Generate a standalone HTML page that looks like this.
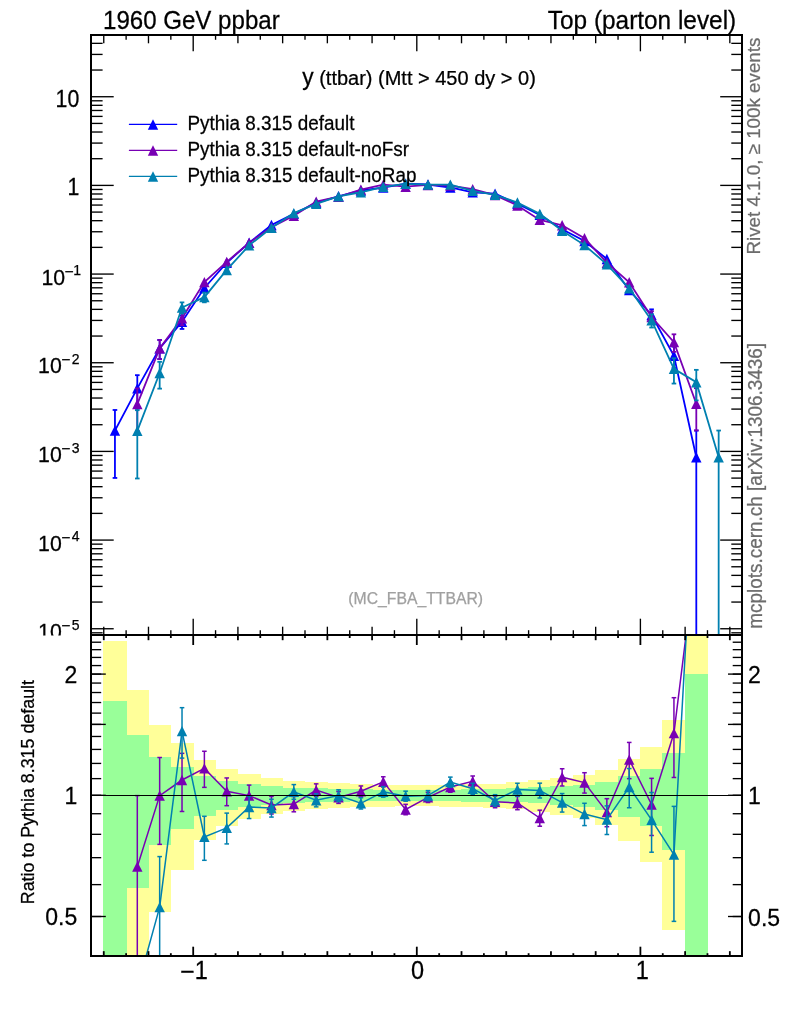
<!DOCTYPE html>
<html><head><meta charset="utf-8"><title>plot</title><style>html,body{margin:0;padding:0;background:#fff}svg{display:block}svg text{font-family:"Liberation Sans","DejaVu Sans",sans-serif}</style></head><body>
<svg width="786" height="1024" viewBox="0 0 786 1024">
<rect width="786" height="1024" fill="#fff"/>
<defs><clipPath id="cm"><rect x="91.0" y="35.0" width="651.0" height="600.0"/></clipPath><clipPath id="cr"><rect x="91.0" y="635.0" width="651.0" height="321.0"/></clipPath></defs>
<g clip-path="url(#cr)" shape-rendering="crispEdges">
<rect x="103" y="641" width="24" height="1359" fill="#ffff99"/>
<rect x="126" y="690" width="23" height="404" fill="#ffff99"/>
<rect x="148" y="725" width="23" height="187" fill="#ffff99"/>
<rect x="170" y="743" width="24" height="127" fill="#ffff99"/>
<rect x="193" y="760" width="23" height="80" fill="#ffff99"/>
<rect x="215" y="769" width="23" height="57" fill="#ffff99"/>
<rect x="237" y="774" width="24" height="45" fill="#ffff99"/>
<rect x="260" y="778" width="23" height="36" fill="#ffff99"/>
<rect x="282" y="781" width="23" height="30" fill="#ffff99"/>
<rect x="305" y="782" width="23" height="27" fill="#ffff99"/>
<rect x="327" y="783" width="23" height="25" fill="#ffff99"/>
<rect x="349" y="784" width="24" height="23" fill="#ffff99"/>
<rect x="372" y="785" width="23" height="22" fill="#ffff99"/>
<rect x="394" y="785" width="23" height="21" fill="#ffff99"/>
<rect x="416" y="785" width="24" height="21" fill="#ffff99"/>
<rect x="439" y="785" width="23" height="22" fill="#ffff99"/>
<rect x="461" y="784" width="23" height="23" fill="#ffff99"/>
<rect x="483" y="784" width="24" height="24" fill="#ffff99"/>
<rect x="506" y="782" width="23" height="27" fill="#ffff99"/>
<rect x="528" y="780" width="23" height="32" fill="#ffff99"/>
<rect x="550" y="778" width="24" height="37" fill="#ffff99"/>
<rect x="573" y="775" width="23" height="43" fill="#ffff99"/>
<rect x="595" y="770" width="24" height="55" fill="#ffff99"/>
<rect x="618" y="759" width="23" height="82" fill="#ffff99"/>
<rect x="640" y="747" width="23" height="115" fill="#ffff99"/>
<rect x="662" y="720" width="24" height="210" fill="#ffff99"/>
<rect x="685" y="630" width="23" height="1370" fill="#ffff99"/>
<rect x="103" y="701" width="24" height="310" fill="#99ff99"/>
<rect x="126" y="735" width="23" height="153" fill="#99ff99"/>
<rect x="148" y="757" width="23" height="88" fill="#99ff99"/>
<rect x="170" y="767" width="24" height="62" fill="#99ff99"/>
<rect x="193" y="776" width="23" height="40" fill="#99ff99"/>
<rect x="215" y="781" width="23" height="29" fill="#99ff99"/>
<rect x="237" y="784" width="24" height="23" fill="#99ff99"/>
<rect x="260" y="786" width="23" height="19" fill="#99ff99"/>
<rect x="282" y="788" width="23" height="15" fill="#99ff99"/>
<rect x="305" y="788" width="23" height="14" fill="#99ff99"/>
<rect x="327" y="789" width="23" height="13" fill="#99ff99"/>
<rect x="349" y="789" width="24" height="12" fill="#99ff99"/>
<rect x="372" y="790" width="23" height="11" fill="#99ff99"/>
<rect x="394" y="790" width="23" height="11" fill="#99ff99"/>
<rect x="416" y="790" width="24" height="11" fill="#99ff99"/>
<rect x="439" y="790" width="23" height="11" fill="#99ff99"/>
<rect x="461" y="789" width="23" height="13" fill="#99ff99"/>
<rect x="483" y="789" width="24" height="13" fill="#99ff99"/>
<rect x="506" y="788" width="23" height="14" fill="#99ff99"/>
<rect x="528" y="787" width="23" height="16" fill="#99ff99"/>
<rect x="550" y="786" width="24" height="19" fill="#99ff99"/>
<rect x="573" y="785" width="23" height="22" fill="#99ff99"/>
<rect x="595" y="782" width="24" height="28" fill="#99ff99"/>
<rect x="618" y="776" width="23" height="41" fill="#99ff99"/>
<rect x="640" y="769" width="23" height="57" fill="#99ff99"/>
<rect x="662" y="753" width="24" height="97" fill="#99ff99"/>
<rect x="685" y="674" width="23" height="1326" fill="#99ff99"/>
</g>
<g clip-path="url(#cr)">
<polyline fill="none" stroke="#7800b4" stroke-width="1.5" points="137.3,866.67 159.66,795.6 182.02,780.01 204.38,768.38 226.74,791.27 249.1,795.6 271.46,804.96 293.82,804.04 316.18,790.08 338.54,797.36 360.9,791.27 383.26,781.79 405.62,809.46 427.98,797.36 450.34,787.05 472.7,781.3 495.06,801.84 517.42,802.94 539.78,818.01 562.14,777.15 584.5,782.6 606.86,812.13 629.22,759.6 651.58,804.59 673.94,733.08 696.3,552.6"/>
<line x1="137.3" y1="795.6" x2="137.3" y2="988.41" stroke="#7800b4" stroke-width="1.5"/>
<line x1="135" y1="795.6" x2="139.6" y2="795.6" stroke="#7800b4" stroke-width="1.5"/>
<line x1="135" y1="988.41" x2="139.6" y2="988.41" stroke="#7800b4" stroke-width="1.5"/>
<line x1="159.66" y1="757.51" x2="159.66" y2="844.37" stroke="#7800b4" stroke-width="1.5"/>
<line x1="157.36" y1="757.51" x2="161.96" y2="757.51" stroke="#7800b4" stroke-width="1.5"/>
<line x1="157.36" y1="844.37" x2="161.96" y2="844.37" stroke="#7800b4" stroke-width="1.5"/>
<line x1="182.02" y1="753.35" x2="182.02" y2="811.48" stroke="#7800b4" stroke-width="1.5"/>
<line x1="179.72" y1="753.35" x2="184.32" y2="753.35" stroke="#7800b4" stroke-width="1.5"/>
<line x1="179.72" y1="811.48" x2="184.32" y2="811.48" stroke="#7800b4" stroke-width="1.5"/>
<line x1="204.38" y1="751.26" x2="204.38" y2="787.36" stroke="#7800b4" stroke-width="1.5"/>
<line x1="202.08" y1="751.26" x2="206.68" y2="751.26" stroke="#7800b4" stroke-width="1.5"/>
<line x1="202.08" y1="787.36" x2="206.68" y2="787.36" stroke="#7800b4" stroke-width="1.5"/>
<line x1="226.74" y1="777.95" x2="226.74" y2="805.69" stroke="#7800b4" stroke-width="1.5"/>
<line x1="224.44" y1="777.95" x2="229.04" y2="777.95" stroke="#7800b4" stroke-width="1.5"/>
<line x1="224.44" y1="805.69" x2="229.04" y2="805.69" stroke="#7800b4" stroke-width="1.5"/>
<line x1="249.1" y1="785.11" x2="249.1" y2="806.76" stroke="#7800b4" stroke-width="1.5"/>
<line x1="246.8" y1="785.11" x2="251.4" y2="785.11" stroke="#7800b4" stroke-width="1.5"/>
<line x1="246.8" y1="806.76" x2="251.4" y2="806.76" stroke="#7800b4" stroke-width="1.5"/>
<line x1="271.46" y1="796.35" x2="271.46" y2="814.01" stroke="#7800b4" stroke-width="1.5"/>
<line x1="269.16" y1="796.35" x2="273.76" y2="796.35" stroke="#7800b4" stroke-width="1.5"/>
<line x1="269.16" y1="814.01" x2="273.76" y2="814.01" stroke="#7800b4" stroke-width="1.5"/>
<line x1="293.82" y1="796.59" x2="293.82" y2="811.81" stroke="#7800b4" stroke-width="1.5"/>
<line x1="291.52" y1="796.59" x2="296.12" y2="796.59" stroke="#7800b4" stroke-width="1.5"/>
<line x1="291.52" y1="811.81" x2="296.12" y2="811.81" stroke="#7800b4" stroke-width="1.5"/>
<line x1="316.18" y1="783.86" x2="316.18" y2="796.53" stroke="#7800b4" stroke-width="1.5"/>
<line x1="313.88" y1="783.86" x2="318.48" y2="783.86" stroke="#7800b4" stroke-width="1.5"/>
<line x1="313.88" y1="796.53" x2="318.48" y2="796.53" stroke="#7800b4" stroke-width="1.5"/>
<line x1="338.54" y1="791.52" x2="338.54" y2="803.41" stroke="#7800b4" stroke-width="1.5"/>
<line x1="336.24" y1="791.52" x2="340.84" y2="791.52" stroke="#7800b4" stroke-width="1.5"/>
<line x1="336.24" y1="803.41" x2="340.84" y2="803.41" stroke="#7800b4" stroke-width="1.5"/>
<line x1="360.9" y1="785.94" x2="360.9" y2="796.77" stroke="#7800b4" stroke-width="1.5"/>
<line x1="358.6" y1="785.94" x2="363.2" y2="785.94" stroke="#7800b4" stroke-width="1.5"/>
<line x1="358.6" y1="796.77" x2="363.2" y2="796.77" stroke="#7800b4" stroke-width="1.5"/>
<line x1="383.26" y1="776.78" x2="383.26" y2="786.93" stroke="#7800b4" stroke-width="1.5"/>
<line x1="380.96" y1="776.78" x2="385.56" y2="776.78" stroke="#7800b4" stroke-width="1.5"/>
<line x1="380.96" y1="786.93" x2="385.56" y2="786.93" stroke="#7800b4" stroke-width="1.5"/>
<line x1="405.62" y1="804.32" x2="405.62" y2="814.75" stroke="#7800b4" stroke-width="1.5"/>
<line x1="403.32" y1="804.32" x2="407.92" y2="804.32" stroke="#7800b4" stroke-width="1.5"/>
<line x1="403.32" y1="814.75" x2="407.92" y2="814.75" stroke="#7800b4" stroke-width="1.5"/>
<line x1="427.98" y1="792.34" x2="427.98" y2="802.54" stroke="#7800b4" stroke-width="1.5"/>
<line x1="425.68" y1="792.34" x2="430.28" y2="792.34" stroke="#7800b4" stroke-width="1.5"/>
<line x1="425.68" y1="802.54" x2="430.28" y2="802.54" stroke="#7800b4" stroke-width="1.5"/>
<line x1="450.34" y1="781.98" x2="450.34" y2="792.27" stroke="#7800b4" stroke-width="1.5"/>
<line x1="448.04" y1="781.98" x2="452.64" y2="781.98" stroke="#7800b4" stroke-width="1.5"/>
<line x1="448.04" y1="792.27" x2="452.64" y2="792.27" stroke="#7800b4" stroke-width="1.5"/>
<line x1="472.7" y1="775.99" x2="472.7" y2="786.77" stroke="#7800b4" stroke-width="1.5"/>
<line x1="470.4" y1="775.99" x2="475" y2="775.99" stroke="#7800b4" stroke-width="1.5"/>
<line x1="470.4" y1="786.77" x2="475" y2="786.77" stroke="#7800b4" stroke-width="1.5"/>
<line x1="495.06" y1="796.12" x2="495.06" y2="807.76" stroke="#7800b4" stroke-width="1.5"/>
<line x1="492.76" y1="796.12" x2="497.36" y2="796.12" stroke="#7800b4" stroke-width="1.5"/>
<line x1="492.76" y1="807.76" x2="497.36" y2="807.76" stroke="#7800b4" stroke-width="1.5"/>
<line x1="517.42" y1="796.41" x2="517.42" y2="809.72" stroke="#7800b4" stroke-width="1.5"/>
<line x1="515.12" y1="796.41" x2="519.72" y2="796.41" stroke="#7800b4" stroke-width="1.5"/>
<line x1="515.12" y1="809.72" x2="519.72" y2="809.72" stroke="#7800b4" stroke-width="1.5"/>
<line x1="539.78" y1="810.16" x2="539.78" y2="826.22" stroke="#7800b4" stroke-width="1.5"/>
<line x1="537.48" y1="810.16" x2="542.08" y2="810.16" stroke="#7800b4" stroke-width="1.5"/>
<line x1="537.48" y1="826.22" x2="542.08" y2="826.22" stroke="#7800b4" stroke-width="1.5"/>
<line x1="562.14" y1="768.75" x2="562.14" y2="785.97" stroke="#7800b4" stroke-width="1.5"/>
<line x1="559.84" y1="768.75" x2="564.44" y2="768.75" stroke="#7800b4" stroke-width="1.5"/>
<line x1="559.84" y1="785.97" x2="564.44" y2="785.97" stroke="#7800b4" stroke-width="1.5"/>
<line x1="584.5" y1="772.71" x2="584.5" y2="793.08" stroke="#7800b4" stroke-width="1.5"/>
<line x1="582.2" y1="772.71" x2="586.8" y2="772.71" stroke="#7800b4" stroke-width="1.5"/>
<line x1="582.2" y1="793.08" x2="586.8" y2="793.08" stroke="#7800b4" stroke-width="1.5"/>
<line x1="606.86" y1="798.68" x2="606.86" y2="826.71" stroke="#7800b4" stroke-width="1.5"/>
<line x1="604.56" y1="798.68" x2="609.16" y2="798.68" stroke="#7800b4" stroke-width="1.5"/>
<line x1="604.56" y1="826.71" x2="609.16" y2="826.71" stroke="#7800b4" stroke-width="1.5"/>
<line x1="629.22" y1="742.43" x2="629.22" y2="778.64" stroke="#7800b4" stroke-width="1.5"/>
<line x1="626.92" y1="742.43" x2="631.52" y2="742.43" stroke="#7800b4" stroke-width="1.5"/>
<line x1="626.92" y1="778.64" x2="631.52" y2="778.64" stroke="#7800b4" stroke-width="1.5"/>
<line x1="651.58" y1="778.34" x2="651.58" y2="835.49" stroke="#7800b4" stroke-width="1.5"/>
<line x1="649.28" y1="778.34" x2="653.88" y2="778.34" stroke="#7800b4" stroke-width="1.5"/>
<line x1="649.28" y1="835.49" x2="653.88" y2="835.49" stroke="#7800b4" stroke-width="1.5"/>
<line x1="673.94" y1="697.7" x2="673.94" y2="777.48" stroke="#7800b4" stroke-width="1.5"/>
<line x1="671.64" y1="697.7" x2="676.24" y2="697.7" stroke="#7800b4" stroke-width="1.5"/>
<line x1="671.64" y1="777.48" x2="676.24" y2="777.48" stroke="#7800b4" stroke-width="1.5"/>
<polygon points="132.1,871.87 142.5,871.87 137.3,861.47" fill="#7800b4"/>
<polygon points="154.46,800.8 164.86,800.8 159.66,790.4" fill="#7800b4"/>
<polygon points="176.82,785.21 187.22,785.21 182.02,774.81" fill="#7800b4"/>
<polygon points="199.18,773.58 209.58,773.58 204.38,763.18" fill="#7800b4"/>
<polygon points="221.54,796.47 231.94,796.47 226.74,786.07" fill="#7800b4"/>
<polygon points="243.9,800.8 254.3,800.8 249.1,790.4" fill="#7800b4"/>
<polygon points="266.26,810.16 276.66,810.16 271.46,799.76" fill="#7800b4"/>
<polygon points="288.62,809.24 299.02,809.24 293.82,798.84" fill="#7800b4"/>
<polygon points="310.98,795.28 321.38,795.28 316.18,784.88" fill="#7800b4"/>
<polygon points="333.34,802.56 343.74,802.56 338.54,792.16" fill="#7800b4"/>
<polygon points="355.7,796.47 366.1,796.47 360.9,786.07" fill="#7800b4"/>
<polygon points="378.06,786.99 388.46,786.99 383.26,776.59" fill="#7800b4"/>
<polygon points="400.42,814.66 410.82,814.66 405.62,804.26" fill="#7800b4"/>
<polygon points="422.78,802.56 433.18,802.56 427.98,792.16" fill="#7800b4"/>
<polygon points="445.14,792.25 455.54,792.25 450.34,781.85" fill="#7800b4"/>
<polygon points="467.5,786.5 477.9,786.5 472.7,776.1" fill="#7800b4"/>
<polygon points="489.86,807.04 500.26,807.04 495.06,796.64" fill="#7800b4"/>
<polygon points="512.22,808.14 522.62,808.14 517.42,797.74" fill="#7800b4"/>
<polygon points="534.58,823.21 544.98,823.21 539.78,812.81" fill="#7800b4"/>
<polygon points="556.94,782.35 567.34,782.35 562.14,771.95" fill="#7800b4"/>
<polygon points="579.3,787.8 589.7,787.8 584.5,777.4" fill="#7800b4"/>
<polygon points="601.66,817.33 612.06,817.33 606.86,806.93" fill="#7800b4"/>
<polygon points="624.02,764.8 634.42,764.8 629.22,754.4" fill="#7800b4"/>
<polygon points="646.38,809.79 656.78,809.79 651.58,799.39" fill="#7800b4"/>
<polygon points="668.74,738.28 679.14,738.28 673.94,727.88" fill="#7800b4"/>
<polygon points="691.1,557.8 701.5,557.8 696.3,547.4" fill="#7800b4"/>
<polyline fill="none" stroke="#0080b0" stroke-width="1.5" points="137.3,988.17 159.66,907.08 182.02,731.08 204.38,836.92 226.74,827.84 249.1,807.01 271.46,807.94 293.82,791.79 316.18,800.22 338.54,795.6 360.9,803.3 383.26,791.79 405.62,796.13 427.98,795.6 450.34,782.11 472.7,788.73 495.06,800.4 517.42,789.57 539.78,790.42 562.14,802.57 584.5,814.07 606.86,819.61 629.22,787.05 651.58,819.81 673.94,854.58 696.3,454.51"/>
<line x1="159.66" y1="856.59" x2="159.66" y2="978.36" stroke="#0080b0" stroke-width="1.5"/>
<line x1="157.36" y1="856.59" x2="161.96" y2="856.59" stroke="#0080b0" stroke-width="1.5"/>
<line x1="157.36" y1="978.36" x2="161.96" y2="978.36" stroke="#0080b0" stroke-width="1.5"/>
<line x1="182.02" y1="707.67" x2="182.02" y2="758.1" stroke="#0080b0" stroke-width="1.5"/>
<line x1="179.72" y1="707.67" x2="184.32" y2="707.67" stroke="#0080b0" stroke-width="1.5"/>
<line x1="179.72" y1="758.1" x2="184.32" y2="758.1" stroke="#0080b0" stroke-width="1.5"/>
<line x1="204.38" y1="816.3" x2="204.38" y2="860.3" stroke="#0080b0" stroke-width="1.5"/>
<line x1="202.08" y1="816.3" x2="206.68" y2="816.3" stroke="#0080b0" stroke-width="1.5"/>
<line x1="202.08" y1="860.3" x2="206.68" y2="860.3" stroke="#0080b0" stroke-width="1.5"/>
<line x1="226.74" y1="813.11" x2="226.74" y2="843.92" stroke="#0080b0" stroke-width="1.5"/>
<line x1="224.44" y1="813.11" x2="229.04" y2="813.11" stroke="#0080b0" stroke-width="1.5"/>
<line x1="224.44" y1="843.92" x2="229.04" y2="843.92" stroke="#0080b0" stroke-width="1.5"/>
<line x1="249.1" y1="796.18" x2="249.1" y2="818.55" stroke="#0080b0" stroke-width="1.5"/>
<line x1="246.8" y1="796.18" x2="251.4" y2="796.18" stroke="#0080b0" stroke-width="1.5"/>
<line x1="246.8" y1="818.55" x2="251.4" y2="818.55" stroke="#0080b0" stroke-width="1.5"/>
<line x1="271.46" y1="799.27" x2="271.46" y2="817.08" stroke="#0080b0" stroke-width="1.5"/>
<line x1="269.16" y1="799.27" x2="273.76" y2="799.27" stroke="#0080b0" stroke-width="1.5"/>
<line x1="269.16" y1="817.08" x2="273.76" y2="817.08" stroke="#0080b0" stroke-width="1.5"/>
<line x1="293.82" y1="784.59" x2="293.82" y2="799.29" stroke="#0080b0" stroke-width="1.5"/>
<line x1="291.52" y1="784.59" x2="296.12" y2="784.59" stroke="#0080b0" stroke-width="1.5"/>
<line x1="291.52" y1="799.29" x2="296.12" y2="799.29" stroke="#0080b0" stroke-width="1.5"/>
<line x1="316.18" y1="793.82" x2="316.18" y2="806.86" stroke="#0080b0" stroke-width="1.5"/>
<line x1="313.88" y1="793.82" x2="318.48" y2="793.82" stroke="#0080b0" stroke-width="1.5"/>
<line x1="313.88" y1="806.86" x2="318.48" y2="806.86" stroke="#0080b0" stroke-width="1.5"/>
<line x1="338.54" y1="789.79" x2="338.54" y2="801.61" stroke="#0080b0" stroke-width="1.5"/>
<line x1="336.24" y1="789.79" x2="340.84" y2="789.79" stroke="#0080b0" stroke-width="1.5"/>
<line x1="336.24" y1="801.61" x2="340.84" y2="801.61" stroke="#0080b0" stroke-width="1.5"/>
<line x1="360.9" y1="797.79" x2="360.9" y2="809" stroke="#0080b0" stroke-width="1.5"/>
<line x1="358.6" y1="797.79" x2="363.2" y2="797.79" stroke="#0080b0" stroke-width="1.5"/>
<line x1="358.6" y1="809" x2="363.2" y2="809" stroke="#0080b0" stroke-width="1.5"/>
<line x1="383.26" y1="786.64" x2="383.26" y2="797.09" stroke="#0080b0" stroke-width="1.5"/>
<line x1="380.96" y1="786.64" x2="385.56" y2="786.64" stroke="#0080b0" stroke-width="1.5"/>
<line x1="380.96" y1="797.09" x2="385.56" y2="797.09" stroke="#0080b0" stroke-width="1.5"/>
<line x1="405.62" y1="791.18" x2="405.62" y2="801.22" stroke="#0080b0" stroke-width="1.5"/>
<line x1="403.32" y1="791.18" x2="407.92" y2="791.18" stroke="#0080b0" stroke-width="1.5"/>
<line x1="403.32" y1="801.22" x2="407.92" y2="801.22" stroke="#0080b0" stroke-width="1.5"/>
<line x1="427.98" y1="790.6" x2="427.98" y2="800.75" stroke="#0080b0" stroke-width="1.5"/>
<line x1="425.68" y1="790.6" x2="430.28" y2="790.6" stroke="#0080b0" stroke-width="1.5"/>
<line x1="425.68" y1="800.75" x2="430.28" y2="800.75" stroke="#0080b0" stroke-width="1.5"/>
<line x1="450.34" y1="777.11" x2="450.34" y2="787.26" stroke="#0080b0" stroke-width="1.5"/>
<line x1="448.04" y1="777.11" x2="452.64" y2="777.11" stroke="#0080b0" stroke-width="1.5"/>
<line x1="448.04" y1="787.26" x2="452.64" y2="787.26" stroke="#0080b0" stroke-width="1.5"/>
<line x1="472.7" y1="783.31" x2="472.7" y2="794.32" stroke="#0080b0" stroke-width="1.5"/>
<line x1="470.4" y1="783.31" x2="475" y2="783.31" stroke="#0080b0" stroke-width="1.5"/>
<line x1="470.4" y1="794.32" x2="475" y2="794.32" stroke="#0080b0" stroke-width="1.5"/>
<line x1="495.06" y1="794.7" x2="495.06" y2="806.29" stroke="#0080b0" stroke-width="1.5"/>
<line x1="492.76" y1="794.7" x2="497.36" y2="794.7" stroke="#0080b0" stroke-width="1.5"/>
<line x1="492.76" y1="806.29" x2="497.36" y2="806.29" stroke="#0080b0" stroke-width="1.5"/>
<line x1="517.42" y1="783.28" x2="517.42" y2="796.09" stroke="#0080b0" stroke-width="1.5"/>
<line x1="515.12" y1="783.28" x2="519.72" y2="783.28" stroke="#0080b0" stroke-width="1.5"/>
<line x1="515.12" y1="796.09" x2="519.72" y2="796.09" stroke="#0080b0" stroke-width="1.5"/>
<line x1="539.78" y1="783.16" x2="539.78" y2="798" stroke="#0080b0" stroke-width="1.5"/>
<line x1="537.48" y1="783.16" x2="542.08" y2="783.16" stroke="#0080b0" stroke-width="1.5"/>
<line x1="537.48" y1="798" x2="542.08" y2="798" stroke="#0080b0" stroke-width="1.5"/>
<line x1="562.14" y1="793.56" x2="562.14" y2="812.08" stroke="#0080b0" stroke-width="1.5"/>
<line x1="559.84" y1="793.56" x2="564.44" y2="793.56" stroke="#0080b0" stroke-width="1.5"/>
<line x1="559.84" y1="812.08" x2="564.44" y2="812.08" stroke="#0080b0" stroke-width="1.5"/>
<line x1="584.5" y1="803.28" x2="584.5" y2="825.57" stroke="#0080b0" stroke-width="1.5"/>
<line x1="582.2" y1="803.28" x2="586.8" y2="803.28" stroke="#0080b0" stroke-width="1.5"/>
<line x1="582.2" y1="825.57" x2="586.8" y2="825.57" stroke="#0080b0" stroke-width="1.5"/>
<line x1="606.86" y1="805.88" x2="606.86" y2="834.51" stroke="#0080b0" stroke-width="1.5"/>
<line x1="604.56" y1="805.88" x2="609.16" y2="805.88" stroke="#0080b0" stroke-width="1.5"/>
<line x1="604.56" y1="834.51" x2="609.16" y2="834.51" stroke="#0080b0" stroke-width="1.5"/>
<line x1="629.22" y1="768.55" x2="629.22" y2="807.74" stroke="#0080b0" stroke-width="1.5"/>
<line x1="626.92" y1="768.55" x2="631.52" y2="768.55" stroke="#0080b0" stroke-width="1.5"/>
<line x1="626.92" y1="807.74" x2="631.52" y2="807.74" stroke="#0080b0" stroke-width="1.5"/>
<line x1="651.58" y1="792.48" x2="651.58" y2="852.21" stroke="#0080b0" stroke-width="1.5"/>
<line x1="649.28" y1="792.48" x2="653.88" y2="792.48" stroke="#0080b0" stroke-width="1.5"/>
<line x1="649.28" y1="852.21" x2="653.88" y2="852.21" stroke="#0080b0" stroke-width="1.5"/>
<line x1="673.94" y1="806.37" x2="673.94" y2="921.36" stroke="#0080b0" stroke-width="1.5"/>
<line x1="671.64" y1="806.37" x2="676.24" y2="806.37" stroke="#0080b0" stroke-width="1.5"/>
<line x1="671.64" y1="921.36" x2="676.24" y2="921.36" stroke="#0080b0" stroke-width="1.5"/>
<polygon points="132.1,993.37 142.5,993.37 137.3,982.97" fill="#0080b0"/>
<polygon points="154.46,912.28 164.86,912.28 159.66,901.88" fill="#0080b0"/>
<polygon points="176.82,736.28 187.22,736.28 182.02,725.88" fill="#0080b0"/>
<polygon points="199.18,842.12 209.58,842.12 204.38,831.72" fill="#0080b0"/>
<polygon points="221.54,833.04 231.94,833.04 226.74,822.64" fill="#0080b0"/>
<polygon points="243.9,812.21 254.3,812.21 249.1,801.81" fill="#0080b0"/>
<polygon points="266.26,813.14 276.66,813.14 271.46,802.74" fill="#0080b0"/>
<polygon points="288.62,796.99 299.02,796.99 293.82,786.59" fill="#0080b0"/>
<polygon points="310.98,805.42 321.38,805.42 316.18,795.02" fill="#0080b0"/>
<polygon points="333.34,800.8 343.74,800.8 338.54,790.4" fill="#0080b0"/>
<polygon points="355.7,808.5 366.1,808.5 360.9,798.1" fill="#0080b0"/>
<polygon points="378.06,796.99 388.46,796.99 383.26,786.59" fill="#0080b0"/>
<polygon points="400.42,801.33 410.82,801.33 405.62,790.93" fill="#0080b0"/>
<polygon points="422.78,800.8 433.18,800.8 427.98,790.4" fill="#0080b0"/>
<polygon points="445.14,787.31 455.54,787.31 450.34,776.91" fill="#0080b0"/>
<polygon points="467.5,793.93 477.9,793.93 472.7,783.53" fill="#0080b0"/>
<polygon points="489.86,805.6 500.26,805.6 495.06,795.2" fill="#0080b0"/>
<polygon points="512.22,794.77 522.62,794.77 517.42,784.37" fill="#0080b0"/>
<polygon points="534.58,795.62 544.98,795.62 539.78,785.22" fill="#0080b0"/>
<polygon points="556.94,807.77 567.34,807.77 562.14,797.37" fill="#0080b0"/>
<polygon points="579.3,819.27 589.7,819.27 584.5,808.87" fill="#0080b0"/>
<polygon points="601.66,824.81 612.06,824.81 606.86,814.41" fill="#0080b0"/>
<polygon points="624.02,792.25 634.42,792.25 629.22,781.85" fill="#0080b0"/>
<polygon points="646.38,825.01 656.78,825.01 651.58,814.61" fill="#0080b0"/>
<polygon points="668.74,859.78 679.14,859.78 673.94,849.38" fill="#0080b0"/>
<polygon points="691.1,459.71 701.5,459.71 696.3,449.31" fill="#0080b0"/>
</g>
<line x1="91" y1="795.5" x2="742" y2="795.5" stroke="#000" stroke-width="1.1"/>
<g clip-path="url(#cm)">
<polyline fill="none" stroke="#0000ff" stroke-width="1.8" points="114.94,430.59 137.3,388.36 159.66,348.34 182.02,321.7 204.38,288.01 226.74,262.77 249.1,242.79 271.46,225.07 293.82,213.85 316.18,202.77 338.54,196.3 360.9,190.5 383.26,187.57 405.62,183.6 427.98,184.51 450.34,187.49 472.7,192.32 495.06,193.66 517.42,203.8 539.78,214.9 562.14,229.24 584.5,240.97 606.86,258.97 629.22,290.15 651.58,314.98 673.94,355.8 696.3,457.23"/>
<line x1="114.94" y1="409.98" x2="114.94" y2="477.94" stroke="#0000ff" stroke-width="1.8"/>
<line x1="112.64" y1="409.98" x2="117.24" y2="409.98" stroke="#0000ff" stroke-width="1.8"/>
<line x1="112.64" y1="477.94" x2="117.24" y2="477.94" stroke="#0000ff" stroke-width="1.8"/>
<line x1="137.3" y1="375.16" x2="137.3" y2="408.61" stroke="#0000ff" stroke-width="1.8"/>
<line x1="135" y1="375.16" x2="139.6" y2="375.16" stroke="#0000ff" stroke-width="1.8"/>
<line x1="135" y1="408.61" x2="139.6" y2="408.61" stroke="#0000ff" stroke-width="1.8"/>
<line x1="159.66" y1="339.95" x2="159.66" y2="359.07" stroke="#0000ff" stroke-width="1.8"/>
<line x1="157.36" y1="339.95" x2="161.96" y2="339.95" stroke="#0000ff" stroke-width="1.8"/>
<line x1="157.36" y1="359.07" x2="161.96" y2="359.07" stroke="#0000ff" stroke-width="1.8"/>
<line x1="182.02" y1="315.58" x2="182.02" y2="328.97" stroke="#0000ff" stroke-width="1.8"/>
<line x1="179.72" y1="315.58" x2="184.32" y2="315.58" stroke="#0000ff" stroke-width="1.8"/>
<line x1="179.72" y1="328.97" x2="184.32" y2="328.97" stroke="#0000ff" stroke-width="1.8"/>
<line x1="651.58" y1="309.34" x2="651.58" y2="321.59" stroke="#0000ff" stroke-width="1.8"/>
<line x1="649.28" y1="309.34" x2="653.88" y2="309.34" stroke="#0000ff" stroke-width="1.8"/>
<line x1="649.28" y1="321.59" x2="653.88" y2="321.59" stroke="#0000ff" stroke-width="1.8"/>
<line x1="673.94" y1="346.66" x2="673.94" y2="367.81" stroke="#0000ff" stroke-width="1.8"/>
<line x1="671.64" y1="346.66" x2="676.24" y2="346.66" stroke="#0000ff" stroke-width="1.8"/>
<line x1="671.64" y1="367.81" x2="676.24" y2="367.81" stroke="#0000ff" stroke-width="1.8"/>
<line x1="696.3" y1="430.54" x2="696.3" y2="635" stroke="#0000ff" stroke-width="1.8"/>
<line x1="694" y1="430.54" x2="698.6" y2="430.54" stroke="#0000ff" stroke-width="1.8"/>
<polygon points="109.74,435.79 120.14,435.79 114.94,425.39" fill="#0000ff"/>
<polygon points="132.1,393.56 142.5,393.56 137.3,383.16" fill="#0000ff"/>
<polygon points="154.46,353.54 164.86,353.54 159.66,343.14" fill="#0000ff"/>
<polygon points="176.82,326.9 187.22,326.9 182.02,316.5" fill="#0000ff"/>
<polygon points="199.18,293.21 209.58,293.21 204.38,282.81" fill="#0000ff"/>
<polygon points="221.54,267.97 231.94,267.97 226.74,257.57" fill="#0000ff"/>
<polygon points="243.9,247.99 254.3,247.99 249.1,237.59" fill="#0000ff"/>
<polygon points="266.26,230.27 276.66,230.27 271.46,219.87" fill="#0000ff"/>
<polygon points="288.62,219.05 299.02,219.05 293.82,208.65" fill="#0000ff"/>
<polygon points="310.98,207.97 321.38,207.97 316.18,197.57" fill="#0000ff"/>
<polygon points="333.34,201.5 343.74,201.5 338.54,191.1" fill="#0000ff"/>
<polygon points="355.7,195.7 366.1,195.7 360.9,185.3" fill="#0000ff"/>
<polygon points="378.06,192.77 388.46,192.77 383.26,182.37" fill="#0000ff"/>
<polygon points="400.42,188.8 410.82,188.8 405.62,178.4" fill="#0000ff"/>
<polygon points="422.78,189.71 433.18,189.71 427.98,179.31" fill="#0000ff"/>
<polygon points="445.14,192.69 455.54,192.69 450.34,182.29" fill="#0000ff"/>
<polygon points="467.5,197.52 477.9,197.52 472.7,187.12" fill="#0000ff"/>
<polygon points="489.86,198.86 500.26,198.86 495.06,188.46" fill="#0000ff"/>
<polygon points="512.22,209 522.62,209 517.42,198.6" fill="#0000ff"/>
<polygon points="534.58,220.1 544.98,220.1 539.78,209.7" fill="#0000ff"/>
<polygon points="556.94,234.44 567.34,234.44 562.14,224.04" fill="#0000ff"/>
<polygon points="579.3,246.17 589.7,246.17 584.5,235.77" fill="#0000ff"/>
<polygon points="601.66,264.17 612.06,264.17 606.86,253.77" fill="#0000ff"/>
<polygon points="624.02,295.35 634.42,295.35 629.22,284.95" fill="#0000ff"/>
<polygon points="646.38,320.18 656.78,320.18 651.58,309.78" fill="#0000ff"/>
<polygon points="668.74,361 679.14,361 673.94,350.6" fill="#0000ff"/>
<polygon points="691.1,462.43 701.5,462.43 696.3,452.03" fill="#0000ff"/>
<polyline fill="none" stroke="#7800b4" stroke-width="1.8" points="137.3,404.08 159.66,348.4 182.02,318.33 204.38,282.08 226.74,261.88 249.1,242.86 271.46,227.19 293.82,215.77 316.18,201.62 338.54,196.75 360.9,189.61 383.26,184.59 405.62,186.71 427.98,184.97 450.34,185.67 472.7,189.24 495.06,195.1 517.42,205.49 539.78,219.9 562.14,225.24 584.5,238.18 606.86,262.68 629.22,282.29 651.58,317.03 673.94,342.1 696.3,403.78"/>
<line x1="137.3" y1="388.43" x2="137.3" y2="430.89" stroke="#7800b4" stroke-width="1.8"/>
<line x1="135" y1="388.43" x2="139.6" y2="388.43" stroke="#7800b4" stroke-width="1.8"/>
<line x1="135" y1="430.89" x2="139.6" y2="430.89" stroke="#7800b4" stroke-width="1.8"/>
<line x1="159.66" y1="340.01" x2="159.66" y2="359.14" stroke="#7800b4" stroke-width="1.8"/>
<line x1="157.36" y1="340.01" x2="161.96" y2="340.01" stroke="#7800b4" stroke-width="1.8"/>
<line x1="157.36" y1="359.14" x2="161.96" y2="359.14" stroke="#7800b4" stroke-width="1.8"/>
<line x1="182.02" y1="312.46" x2="182.02" y2="325.26" stroke="#7800b4" stroke-width="1.8"/>
<line x1="179.72" y1="312.46" x2="184.32" y2="312.46" stroke="#7800b4" stroke-width="1.8"/>
<line x1="179.72" y1="325.26" x2="184.32" y2="325.26" stroke="#7800b4" stroke-width="1.8"/>
<line x1="651.58" y1="311.25" x2="651.58" y2="323.83" stroke="#7800b4" stroke-width="1.8"/>
<line x1="649.28" y1="311.25" x2="653.88" y2="311.25" stroke="#7800b4" stroke-width="1.8"/>
<line x1="649.28" y1="323.83" x2="653.88" y2="323.83" stroke="#7800b4" stroke-width="1.8"/>
<line x1="673.94" y1="334.3" x2="673.94" y2="351.87" stroke="#7800b4" stroke-width="1.8"/>
<line x1="671.64" y1="334.3" x2="676.24" y2="334.3" stroke="#7800b4" stroke-width="1.8"/>
<line x1="671.64" y1="351.87" x2="676.24" y2="351.87" stroke="#7800b4" stroke-width="1.8"/>
<line x1="696.3" y1="388.18" x2="696.3" y2="430.44" stroke="#7800b4" stroke-width="1.8"/>
<line x1="694" y1="388.18" x2="698.6" y2="388.18" stroke="#7800b4" stroke-width="1.8"/>
<line x1="694" y1="430.44" x2="698.6" y2="430.44" stroke="#7800b4" stroke-width="1.8"/>
<polygon points="132.1,409.28 142.5,409.28 137.3,398.88" fill="#7800b4"/>
<polygon points="154.46,353.6 164.86,353.6 159.66,343.2" fill="#7800b4"/>
<polygon points="176.82,323.53 187.22,323.53 182.02,313.13" fill="#7800b4"/>
<polygon points="199.18,287.28 209.58,287.28 204.38,276.88" fill="#7800b4"/>
<polygon points="221.54,267.08 231.94,267.08 226.74,256.68" fill="#7800b4"/>
<polygon points="243.9,248.06 254.3,248.06 249.1,237.66" fill="#7800b4"/>
<polygon points="266.26,232.39 276.66,232.39 271.46,221.99" fill="#7800b4"/>
<polygon points="288.62,220.97 299.02,220.97 293.82,210.57" fill="#7800b4"/>
<polygon points="310.98,206.82 321.38,206.82 316.18,196.42" fill="#7800b4"/>
<polygon points="333.34,201.95 343.74,201.95 338.54,191.55" fill="#7800b4"/>
<polygon points="355.7,194.81 366.1,194.81 360.9,184.41" fill="#7800b4"/>
<polygon points="378.06,189.79 388.46,189.79 383.26,179.39" fill="#7800b4"/>
<polygon points="400.42,191.91 410.82,191.91 405.62,181.51" fill="#7800b4"/>
<polygon points="422.78,190.17 433.18,190.17 427.98,179.77" fill="#7800b4"/>
<polygon points="445.14,190.87 455.54,190.87 450.34,180.47" fill="#7800b4"/>
<polygon points="467.5,194.44 477.9,194.44 472.7,184.04" fill="#7800b4"/>
<polygon points="489.86,200.3 500.26,200.3 495.06,189.9" fill="#7800b4"/>
<polygon points="512.22,210.69 522.62,210.69 517.42,200.29" fill="#7800b4"/>
<polygon points="534.58,225.1 544.98,225.1 539.78,214.7" fill="#7800b4"/>
<polygon points="556.94,230.44 567.34,230.44 562.14,220.04" fill="#7800b4"/>
<polygon points="579.3,243.38 589.7,243.38 584.5,232.98" fill="#7800b4"/>
<polygon points="601.66,267.88 612.06,267.88 606.86,257.48" fill="#7800b4"/>
<polygon points="624.02,287.49 634.42,287.49 629.22,277.09" fill="#7800b4"/>
<polygon points="646.38,322.23 656.78,322.23 651.58,311.83" fill="#7800b4"/>
<polygon points="668.74,347.3 679.14,347.3 673.94,336.9" fill="#7800b4"/>
<polygon points="691.1,408.98 701.5,408.98 696.3,398.58" fill="#7800b4"/>
<polyline fill="none" stroke="#0080b0" stroke-width="1.8" points="137.3,430.84 159.66,372.95 182.02,307.55 204.38,297.17 226.74,269.93 249.1,245.37 271.46,227.85 293.82,213.08 316.18,203.86 338.54,196.36 360.9,192.26 383.26,186.8 405.62,183.78 427.98,184.58 450.34,184.58 472.7,190.87 495.06,194.79 517.42,202.54 539.78,213.83 562.14,230.84 584.5,245.11 606.86,264.33 629.22,288.34 651.58,320.38 673.94,368.85 696.3,382.18 718.66,457.23"/>
<line x1="137.3" y1="410.18" x2="137.3" y2="478.5" stroke="#0080b0" stroke-width="1.8"/>
<line x1="135" y1="410.18" x2="139.6" y2="410.18" stroke="#0080b0" stroke-width="1.8"/>
<line x1="135" y1="478.5" x2="139.6" y2="478.5" stroke="#0080b0" stroke-width="1.8"/>
<line x1="159.66" y1="361.83" x2="159.66" y2="388.65" stroke="#0080b0" stroke-width="1.8"/>
<line x1="157.36" y1="361.83" x2="161.96" y2="361.83" stroke="#0080b0" stroke-width="1.8"/>
<line x1="157.36" y1="388.65" x2="161.96" y2="388.65" stroke="#0080b0" stroke-width="1.8"/>
<line x1="182.02" y1="302.4" x2="182.02" y2="313.5" stroke="#0080b0" stroke-width="1.8"/>
<line x1="179.72" y1="302.4" x2="184.32" y2="302.4" stroke="#0080b0" stroke-width="1.8"/>
<line x1="179.72" y1="313.5" x2="184.32" y2="313.5" stroke="#0080b0" stroke-width="1.8"/>
<line x1="204.38" y1="292.63" x2="204.38" y2="302.32" stroke="#0080b0" stroke-width="1.8"/>
<line x1="202.08" y1="292.63" x2="206.68" y2="292.63" stroke="#0080b0" stroke-width="1.8"/>
<line x1="202.08" y1="302.32" x2="206.68" y2="302.32" stroke="#0080b0" stroke-width="1.8"/>
<line x1="651.58" y1="314.36" x2="651.58" y2="327.52" stroke="#0080b0" stroke-width="1.8"/>
<line x1="649.28" y1="314.36" x2="653.88" y2="314.36" stroke="#0080b0" stroke-width="1.8"/>
<line x1="649.28" y1="327.52" x2="653.88" y2="327.52" stroke="#0080b0" stroke-width="1.8"/>
<line x1="673.94" y1="358.24" x2="673.94" y2="383.56" stroke="#0080b0" stroke-width="1.8"/>
<line x1="671.64" y1="358.24" x2="676.24" y2="358.24" stroke="#0080b0" stroke-width="1.8"/>
<line x1="671.64" y1="383.56" x2="676.24" y2="383.56" stroke="#0080b0" stroke-width="1.8"/>
<line x1="696.3" y1="369.85" x2="696.3" y2="400.42" stroke="#0080b0" stroke-width="1.8"/>
<line x1="694" y1="369.85" x2="698.6" y2="369.85" stroke="#0080b0" stroke-width="1.8"/>
<line x1="694" y1="400.42" x2="698.6" y2="400.42" stroke="#0080b0" stroke-width="1.8"/>
<line x1="718.66" y1="430.54" x2="718.66" y2="635" stroke="#0080b0" stroke-width="1.8"/>
<line x1="716.36" y1="430.54" x2="720.96" y2="430.54" stroke="#0080b0" stroke-width="1.8"/>
<polygon points="132.1,436.04 142.5,436.04 137.3,425.64" fill="#0080b0"/>
<polygon points="154.46,378.15 164.86,378.15 159.66,367.75" fill="#0080b0"/>
<polygon points="176.82,312.75 187.22,312.75 182.02,302.35" fill="#0080b0"/>
<polygon points="199.18,302.37 209.58,302.37 204.38,291.97" fill="#0080b0"/>
<polygon points="221.54,275.13 231.94,275.13 226.74,264.73" fill="#0080b0"/>
<polygon points="243.9,250.57 254.3,250.57 249.1,240.17" fill="#0080b0"/>
<polygon points="266.26,233.05 276.66,233.05 271.46,222.65" fill="#0080b0"/>
<polygon points="288.62,218.28 299.02,218.28 293.82,207.88" fill="#0080b0"/>
<polygon points="310.98,209.06 321.38,209.06 316.18,198.66" fill="#0080b0"/>
<polygon points="333.34,201.56 343.74,201.56 338.54,191.16" fill="#0080b0"/>
<polygon points="355.7,197.46 366.1,197.46 360.9,187.06" fill="#0080b0"/>
<polygon points="378.06,192 388.46,192 383.26,181.6" fill="#0080b0"/>
<polygon points="400.42,188.98 410.82,188.98 405.62,178.58" fill="#0080b0"/>
<polygon points="422.78,189.78 433.18,189.78 427.98,179.38" fill="#0080b0"/>
<polygon points="445.14,189.78 455.54,189.78 450.34,179.38" fill="#0080b0"/>
<polygon points="467.5,196.07 477.9,196.07 472.7,185.67" fill="#0080b0"/>
<polygon points="489.86,199.99 500.26,199.99 495.06,189.59" fill="#0080b0"/>
<polygon points="512.22,207.74 522.62,207.74 517.42,197.34" fill="#0080b0"/>
<polygon points="534.58,219.03 544.98,219.03 539.78,208.63" fill="#0080b0"/>
<polygon points="556.94,236.04 567.34,236.04 562.14,225.64" fill="#0080b0"/>
<polygon points="579.3,250.31 589.7,250.31 584.5,239.91" fill="#0080b0"/>
<polygon points="601.66,269.53 612.06,269.53 606.86,259.13" fill="#0080b0"/>
<polygon points="624.02,293.54 634.42,293.54 629.22,283.14" fill="#0080b0"/>
<polygon points="646.38,325.58 656.78,325.58 651.58,315.18" fill="#0080b0"/>
<polygon points="668.74,374.05 679.14,374.05 673.94,363.65" fill="#0080b0"/>
<polygon points="691.1,387.38 701.5,387.38 696.3,376.98" fill="#0080b0"/>
<polygon points="713.46,462.43 723.86,462.43 718.66,452.03" fill="#0080b0"/>
</g>
<g stroke="#000">
<line x1="103.76" y1="35" x2="103.76" y2="43.3" stroke-width="1.35"/>
<line x1="103.76" y1="626.7" x2="103.76" y2="635" stroke-width="1.35"/>
<line x1="103.76" y1="635" x2="103.76" y2="640.2" stroke-width="1.8"/>
<line x1="103.76" y1="951.16" x2="103.76" y2="956" stroke-width="1.8"/>
<line x1="126.12" y1="35" x2="126.12" y2="39.8" stroke-width="1.35"/>
<line x1="126.12" y1="630.2" x2="126.12" y2="635" stroke-width="1.35"/>
<line x1="126.12" y1="635" x2="126.12" y2="638" stroke-width="1.8"/>
<line x1="126.12" y1="953.21" x2="126.12" y2="956" stroke-width="1.8"/>
<line x1="148.48" y1="35" x2="148.48" y2="43.3" stroke-width="1.35"/>
<line x1="148.48" y1="626.7" x2="148.48" y2="635" stroke-width="1.35"/>
<line x1="148.48" y1="635" x2="148.48" y2="640.2" stroke-width="1.8"/>
<line x1="148.48" y1="951.16" x2="148.48" y2="956" stroke-width="1.8"/>
<line x1="170.84" y1="35" x2="170.84" y2="39.8" stroke-width="1.35"/>
<line x1="170.84" y1="630.2" x2="170.84" y2="635" stroke-width="1.35"/>
<line x1="170.84" y1="635" x2="170.84" y2="638" stroke-width="1.8"/>
<line x1="170.84" y1="953.21" x2="170.84" y2="956" stroke-width="1.8"/>
<line x1="193.2" y1="35" x2="193.2" y2="51.3" stroke-width="1.35"/>
<line x1="193.2" y1="618.7" x2="193.2" y2="635" stroke-width="1.35"/>
<line x1="193.2" y1="635" x2="193.2" y2="645" stroke-width="1.8"/>
<line x1="193.2" y1="946.7" x2="193.2" y2="956" stroke-width="1.8"/>
<line x1="215.56" y1="35" x2="215.56" y2="39.8" stroke-width="1.35"/>
<line x1="215.56" y1="630.2" x2="215.56" y2="635" stroke-width="1.35"/>
<line x1="215.56" y1="635" x2="215.56" y2="638" stroke-width="1.8"/>
<line x1="215.56" y1="953.21" x2="215.56" y2="956" stroke-width="1.8"/>
<line x1="237.92" y1="35" x2="237.92" y2="43.3" stroke-width="1.35"/>
<line x1="237.92" y1="626.7" x2="237.92" y2="635" stroke-width="1.35"/>
<line x1="237.92" y1="635" x2="237.92" y2="640.2" stroke-width="1.8"/>
<line x1="237.92" y1="951.16" x2="237.92" y2="956" stroke-width="1.8"/>
<line x1="260.28" y1="35" x2="260.28" y2="39.8" stroke-width="1.35"/>
<line x1="260.28" y1="630.2" x2="260.28" y2="635" stroke-width="1.35"/>
<line x1="260.28" y1="635" x2="260.28" y2="638" stroke-width="1.8"/>
<line x1="260.28" y1="953.21" x2="260.28" y2="956" stroke-width="1.8"/>
<line x1="282.64" y1="35" x2="282.64" y2="43.3" stroke-width="1.35"/>
<line x1="282.64" y1="626.7" x2="282.64" y2="635" stroke-width="1.35"/>
<line x1="282.64" y1="635" x2="282.64" y2="640.2" stroke-width="1.8"/>
<line x1="282.64" y1="951.16" x2="282.64" y2="956" stroke-width="1.8"/>
<line x1="305" y1="35" x2="305" y2="39.8" stroke-width="1.35"/>
<line x1="305" y1="630.2" x2="305" y2="635" stroke-width="1.35"/>
<line x1="305" y1="635" x2="305" y2="638" stroke-width="1.8"/>
<line x1="305" y1="953.21" x2="305" y2="956" stroke-width="1.8"/>
<line x1="327.36" y1="35" x2="327.36" y2="43.3" stroke-width="1.35"/>
<line x1="327.36" y1="626.7" x2="327.36" y2="635" stroke-width="1.35"/>
<line x1="327.36" y1="635" x2="327.36" y2="640.2" stroke-width="1.8"/>
<line x1="327.36" y1="951.16" x2="327.36" y2="956" stroke-width="1.8"/>
<line x1="349.72" y1="35" x2="349.72" y2="39.8" stroke-width="1.35"/>
<line x1="349.72" y1="630.2" x2="349.72" y2="635" stroke-width="1.35"/>
<line x1="349.72" y1="635" x2="349.72" y2="638" stroke-width="1.8"/>
<line x1="349.72" y1="953.21" x2="349.72" y2="956" stroke-width="1.8"/>
<line x1="372.08" y1="35" x2="372.08" y2="43.3" stroke-width="1.35"/>
<line x1="372.08" y1="626.7" x2="372.08" y2="635" stroke-width="1.35"/>
<line x1="372.08" y1="635" x2="372.08" y2="640.2" stroke-width="1.8"/>
<line x1="372.08" y1="951.16" x2="372.08" y2="956" stroke-width="1.8"/>
<line x1="394.44" y1="35" x2="394.44" y2="39.8" stroke-width="1.35"/>
<line x1="394.44" y1="630.2" x2="394.44" y2="635" stroke-width="1.35"/>
<line x1="394.44" y1="635" x2="394.44" y2="638" stroke-width="1.8"/>
<line x1="394.44" y1="953.21" x2="394.44" y2="956" stroke-width="1.8"/>
<line x1="416.8" y1="35" x2="416.8" y2="51.3" stroke-width="1.35"/>
<line x1="416.8" y1="618.7" x2="416.8" y2="635" stroke-width="1.35"/>
<line x1="416.8" y1="635" x2="416.8" y2="645" stroke-width="1.8"/>
<line x1="416.8" y1="946.7" x2="416.8" y2="956" stroke-width="1.8"/>
<line x1="439.16" y1="35" x2="439.16" y2="39.8" stroke-width="1.35"/>
<line x1="439.16" y1="630.2" x2="439.16" y2="635" stroke-width="1.35"/>
<line x1="439.16" y1="635" x2="439.16" y2="638" stroke-width="1.8"/>
<line x1="439.16" y1="953.21" x2="439.16" y2="956" stroke-width="1.8"/>
<line x1="461.52" y1="35" x2="461.52" y2="43.3" stroke-width="1.35"/>
<line x1="461.52" y1="626.7" x2="461.52" y2="635" stroke-width="1.35"/>
<line x1="461.52" y1="635" x2="461.52" y2="640.2" stroke-width="1.8"/>
<line x1="461.52" y1="951.16" x2="461.52" y2="956" stroke-width="1.8"/>
<line x1="483.88" y1="35" x2="483.88" y2="39.8" stroke-width="1.35"/>
<line x1="483.88" y1="630.2" x2="483.88" y2="635" stroke-width="1.35"/>
<line x1="483.88" y1="635" x2="483.88" y2="638" stroke-width="1.8"/>
<line x1="483.88" y1="953.21" x2="483.88" y2="956" stroke-width="1.8"/>
<line x1="506.24" y1="35" x2="506.24" y2="43.3" stroke-width="1.35"/>
<line x1="506.24" y1="626.7" x2="506.24" y2="635" stroke-width="1.35"/>
<line x1="506.24" y1="635" x2="506.24" y2="640.2" stroke-width="1.8"/>
<line x1="506.24" y1="951.16" x2="506.24" y2="956" stroke-width="1.8"/>
<line x1="528.6" y1="35" x2="528.6" y2="39.8" stroke-width="1.35"/>
<line x1="528.6" y1="630.2" x2="528.6" y2="635" stroke-width="1.35"/>
<line x1="528.6" y1="635" x2="528.6" y2="638" stroke-width="1.8"/>
<line x1="528.6" y1="953.21" x2="528.6" y2="956" stroke-width="1.8"/>
<line x1="550.96" y1="35" x2="550.96" y2="43.3" stroke-width="1.35"/>
<line x1="550.96" y1="626.7" x2="550.96" y2="635" stroke-width="1.35"/>
<line x1="550.96" y1="635" x2="550.96" y2="640.2" stroke-width="1.8"/>
<line x1="550.96" y1="951.16" x2="550.96" y2="956" stroke-width="1.8"/>
<line x1="573.32" y1="35" x2="573.32" y2="39.8" stroke-width="1.35"/>
<line x1="573.32" y1="630.2" x2="573.32" y2="635" stroke-width="1.35"/>
<line x1="573.32" y1="635" x2="573.32" y2="638" stroke-width="1.8"/>
<line x1="573.32" y1="953.21" x2="573.32" y2="956" stroke-width="1.8"/>
<line x1="595.68" y1="35" x2="595.68" y2="43.3" stroke-width="1.35"/>
<line x1="595.68" y1="626.7" x2="595.68" y2="635" stroke-width="1.35"/>
<line x1="595.68" y1="635" x2="595.68" y2="640.2" stroke-width="1.8"/>
<line x1="595.68" y1="951.16" x2="595.68" y2="956" stroke-width="1.8"/>
<line x1="618.04" y1="35" x2="618.04" y2="39.8" stroke-width="1.35"/>
<line x1="618.04" y1="630.2" x2="618.04" y2="635" stroke-width="1.35"/>
<line x1="618.04" y1="635" x2="618.04" y2="638" stroke-width="1.8"/>
<line x1="618.04" y1="953.21" x2="618.04" y2="956" stroke-width="1.8"/>
<line x1="640.4" y1="35" x2="640.4" y2="51.3" stroke-width="1.35"/>
<line x1="640.4" y1="618.7" x2="640.4" y2="635" stroke-width="1.35"/>
<line x1="640.4" y1="635" x2="640.4" y2="645" stroke-width="1.8"/>
<line x1="640.4" y1="946.7" x2="640.4" y2="956" stroke-width="1.8"/>
<line x1="662.76" y1="35" x2="662.76" y2="39.8" stroke-width="1.35"/>
<line x1="662.76" y1="630.2" x2="662.76" y2="635" stroke-width="1.35"/>
<line x1="662.76" y1="635" x2="662.76" y2="638" stroke-width="1.8"/>
<line x1="662.76" y1="953.21" x2="662.76" y2="956" stroke-width="1.8"/>
<line x1="685.12" y1="35" x2="685.12" y2="43.3" stroke-width="1.35"/>
<line x1="685.12" y1="626.7" x2="685.12" y2="635" stroke-width="1.35"/>
<line x1="685.12" y1="635" x2="685.12" y2="640.2" stroke-width="1.8"/>
<line x1="685.12" y1="951.16" x2="685.12" y2="956" stroke-width="1.8"/>
<line x1="707.48" y1="35" x2="707.48" y2="39.8" stroke-width="1.35"/>
<line x1="707.48" y1="630.2" x2="707.48" y2="635" stroke-width="1.35"/>
<line x1="707.48" y1="635" x2="707.48" y2="638" stroke-width="1.8"/>
<line x1="707.48" y1="953.21" x2="707.48" y2="956" stroke-width="1.8"/>
<line x1="729.84" y1="35" x2="729.84" y2="43.3" stroke-width="1.35"/>
<line x1="729.84" y1="626.7" x2="729.84" y2="635" stroke-width="1.35"/>
<line x1="729.84" y1="635" x2="729.84" y2="640.2" stroke-width="1.8"/>
<line x1="729.84" y1="951.16" x2="729.84" y2="956" stroke-width="1.8"/>
<line x1="91" y1="632.81" x2="102.6" y2="632.81" stroke-width="1.35"/>
<line x1="731.3" y1="632.81" x2="742" y2="632.81" stroke-width="1.35"/>
<line x1="91" y1="628.75" x2="113.7" y2="628.75" stroke-width="1.35"/>
<line x1="720.2" y1="628.75" x2="742" y2="628.75" stroke-width="1.35"/>
<line x1="91" y1="602.06" x2="102.6" y2="602.06" stroke-width="1.35"/>
<line x1="731.3" y1="602.06" x2="742" y2="602.06" stroke-width="1.35"/>
<line x1="91" y1="586.44" x2="102.6" y2="586.44" stroke-width="1.35"/>
<line x1="731.3" y1="586.44" x2="742" y2="586.44" stroke-width="1.35"/>
<line x1="91" y1="575.37" x2="102.6" y2="575.37" stroke-width="1.35"/>
<line x1="731.3" y1="575.37" x2="742" y2="575.37" stroke-width="1.35"/>
<line x1="91" y1="566.77" x2="102.6" y2="566.77" stroke-width="1.35"/>
<line x1="731.3" y1="566.77" x2="742" y2="566.77" stroke-width="1.35"/>
<line x1="91" y1="559.75" x2="102.6" y2="559.75" stroke-width="1.35"/>
<line x1="731.3" y1="559.75" x2="742" y2="559.75" stroke-width="1.35"/>
<line x1="91" y1="553.82" x2="102.6" y2="553.82" stroke-width="1.35"/>
<line x1="731.3" y1="553.82" x2="742" y2="553.82" stroke-width="1.35"/>
<line x1="91" y1="548.67" x2="102.6" y2="548.67" stroke-width="1.35"/>
<line x1="731.3" y1="548.67" x2="742" y2="548.67" stroke-width="1.35"/>
<line x1="91" y1="544.14" x2="102.6" y2="544.14" stroke-width="1.35"/>
<line x1="731.3" y1="544.14" x2="742" y2="544.14" stroke-width="1.35"/>
<line x1="91" y1="540.08" x2="113.7" y2="540.08" stroke-width="1.35"/>
<line x1="720.2" y1="540.08" x2="742" y2="540.08" stroke-width="1.35"/>
<line x1="91" y1="513.39" x2="102.6" y2="513.39" stroke-width="1.35"/>
<line x1="731.3" y1="513.39" x2="742" y2="513.39" stroke-width="1.35"/>
<line x1="91" y1="497.77" x2="102.6" y2="497.77" stroke-width="1.35"/>
<line x1="731.3" y1="497.77" x2="742" y2="497.77" stroke-width="1.35"/>
<line x1="91" y1="486.7" x2="102.6" y2="486.7" stroke-width="1.35"/>
<line x1="731.3" y1="486.7" x2="742" y2="486.7" stroke-width="1.35"/>
<line x1="91" y1="478.1" x2="102.6" y2="478.1" stroke-width="1.35"/>
<line x1="731.3" y1="478.1" x2="742" y2="478.1" stroke-width="1.35"/>
<line x1="91" y1="471.08" x2="102.6" y2="471.08" stroke-width="1.35"/>
<line x1="731.3" y1="471.08" x2="742" y2="471.08" stroke-width="1.35"/>
<line x1="91" y1="465.15" x2="102.6" y2="465.15" stroke-width="1.35"/>
<line x1="731.3" y1="465.15" x2="742" y2="465.15" stroke-width="1.35"/>
<line x1="91" y1="460" x2="102.6" y2="460" stroke-width="1.35"/>
<line x1="731.3" y1="460" x2="742" y2="460" stroke-width="1.35"/>
<line x1="91" y1="455.47" x2="102.6" y2="455.47" stroke-width="1.35"/>
<line x1="731.3" y1="455.47" x2="742" y2="455.47" stroke-width="1.35"/>
<line x1="91" y1="451.41" x2="113.7" y2="451.41" stroke-width="1.35"/>
<line x1="720.2" y1="451.41" x2="742" y2="451.41" stroke-width="1.35"/>
<line x1="91" y1="424.72" x2="102.6" y2="424.72" stroke-width="1.35"/>
<line x1="731.3" y1="424.72" x2="742" y2="424.72" stroke-width="1.35"/>
<line x1="91" y1="409.1" x2="102.6" y2="409.1" stroke-width="1.35"/>
<line x1="731.3" y1="409.1" x2="742" y2="409.1" stroke-width="1.35"/>
<line x1="91" y1="398.03" x2="102.6" y2="398.03" stroke-width="1.35"/>
<line x1="731.3" y1="398.03" x2="742" y2="398.03" stroke-width="1.35"/>
<line x1="91" y1="389.43" x2="102.6" y2="389.43" stroke-width="1.35"/>
<line x1="731.3" y1="389.43" x2="742" y2="389.43" stroke-width="1.35"/>
<line x1="91" y1="382.41" x2="102.6" y2="382.41" stroke-width="1.35"/>
<line x1="731.3" y1="382.41" x2="742" y2="382.41" stroke-width="1.35"/>
<line x1="91" y1="376.48" x2="102.6" y2="376.48" stroke-width="1.35"/>
<line x1="731.3" y1="376.48" x2="742" y2="376.48" stroke-width="1.35"/>
<line x1="91" y1="371.33" x2="102.6" y2="371.33" stroke-width="1.35"/>
<line x1="731.3" y1="371.33" x2="742" y2="371.33" stroke-width="1.35"/>
<line x1="91" y1="366.8" x2="102.6" y2="366.8" stroke-width="1.35"/>
<line x1="731.3" y1="366.8" x2="742" y2="366.8" stroke-width="1.35"/>
<line x1="91" y1="362.74" x2="113.7" y2="362.74" stroke-width="1.35"/>
<line x1="720.2" y1="362.74" x2="742" y2="362.74" stroke-width="1.35"/>
<line x1="91" y1="336.05" x2="102.6" y2="336.05" stroke-width="1.35"/>
<line x1="731.3" y1="336.05" x2="742" y2="336.05" stroke-width="1.35"/>
<line x1="91" y1="320.43" x2="102.6" y2="320.43" stroke-width="1.35"/>
<line x1="731.3" y1="320.43" x2="742" y2="320.43" stroke-width="1.35"/>
<line x1="91" y1="309.36" x2="102.6" y2="309.36" stroke-width="1.35"/>
<line x1="731.3" y1="309.36" x2="742" y2="309.36" stroke-width="1.35"/>
<line x1="91" y1="300.76" x2="102.6" y2="300.76" stroke-width="1.35"/>
<line x1="731.3" y1="300.76" x2="742" y2="300.76" stroke-width="1.35"/>
<line x1="91" y1="293.74" x2="102.6" y2="293.74" stroke-width="1.35"/>
<line x1="731.3" y1="293.74" x2="742" y2="293.74" stroke-width="1.35"/>
<line x1="91" y1="287.81" x2="102.6" y2="287.81" stroke-width="1.35"/>
<line x1="731.3" y1="287.81" x2="742" y2="287.81" stroke-width="1.35"/>
<line x1="91" y1="282.66" x2="102.6" y2="282.66" stroke-width="1.35"/>
<line x1="731.3" y1="282.66" x2="742" y2="282.66" stroke-width="1.35"/>
<line x1="91" y1="278.13" x2="102.6" y2="278.13" stroke-width="1.35"/>
<line x1="731.3" y1="278.13" x2="742" y2="278.13" stroke-width="1.35"/>
<line x1="91" y1="274.07" x2="113.7" y2="274.07" stroke-width="1.35"/>
<line x1="720.2" y1="274.07" x2="742" y2="274.07" stroke-width="1.35"/>
<line x1="91" y1="247.38" x2="102.6" y2="247.38" stroke-width="1.35"/>
<line x1="731.3" y1="247.38" x2="742" y2="247.38" stroke-width="1.35"/>
<line x1="91" y1="231.76" x2="102.6" y2="231.76" stroke-width="1.35"/>
<line x1="731.3" y1="231.76" x2="742" y2="231.76" stroke-width="1.35"/>
<line x1="91" y1="220.69" x2="102.6" y2="220.69" stroke-width="1.35"/>
<line x1="731.3" y1="220.69" x2="742" y2="220.69" stroke-width="1.35"/>
<line x1="91" y1="212.09" x2="102.6" y2="212.09" stroke-width="1.35"/>
<line x1="731.3" y1="212.09" x2="742" y2="212.09" stroke-width="1.35"/>
<line x1="91" y1="205.07" x2="102.6" y2="205.07" stroke-width="1.35"/>
<line x1="731.3" y1="205.07" x2="742" y2="205.07" stroke-width="1.35"/>
<line x1="91" y1="199.14" x2="102.6" y2="199.14" stroke-width="1.35"/>
<line x1="731.3" y1="199.14" x2="742" y2="199.14" stroke-width="1.35"/>
<line x1="91" y1="193.99" x2="102.6" y2="193.99" stroke-width="1.35"/>
<line x1="731.3" y1="193.99" x2="742" y2="193.99" stroke-width="1.35"/>
<line x1="91" y1="189.46" x2="102.6" y2="189.46" stroke-width="1.35"/>
<line x1="731.3" y1="189.46" x2="742" y2="189.46" stroke-width="1.35"/>
<line x1="91" y1="185.4" x2="113.7" y2="185.4" stroke-width="1.35"/>
<line x1="720.2" y1="185.4" x2="742" y2="185.4" stroke-width="1.35"/>
<line x1="91" y1="158.71" x2="102.6" y2="158.71" stroke-width="1.35"/>
<line x1="731.3" y1="158.71" x2="742" y2="158.71" stroke-width="1.35"/>
<line x1="91" y1="143.09" x2="102.6" y2="143.09" stroke-width="1.35"/>
<line x1="731.3" y1="143.09" x2="742" y2="143.09" stroke-width="1.35"/>
<line x1="91" y1="132.02" x2="102.6" y2="132.02" stroke-width="1.35"/>
<line x1="731.3" y1="132.02" x2="742" y2="132.02" stroke-width="1.35"/>
<line x1="91" y1="123.42" x2="102.6" y2="123.42" stroke-width="1.35"/>
<line x1="731.3" y1="123.42" x2="742" y2="123.42" stroke-width="1.35"/>
<line x1="91" y1="116.4" x2="102.6" y2="116.4" stroke-width="1.35"/>
<line x1="731.3" y1="116.4" x2="742" y2="116.4" stroke-width="1.35"/>
<line x1="91" y1="110.47" x2="102.6" y2="110.47" stroke-width="1.35"/>
<line x1="731.3" y1="110.47" x2="742" y2="110.47" stroke-width="1.35"/>
<line x1="91" y1="105.32" x2="102.6" y2="105.32" stroke-width="1.35"/>
<line x1="731.3" y1="105.32" x2="742" y2="105.32" stroke-width="1.35"/>
<line x1="91" y1="100.79" x2="102.6" y2="100.79" stroke-width="1.35"/>
<line x1="731.3" y1="100.79" x2="742" y2="100.79" stroke-width="1.35"/>
<line x1="91" y1="96.73" x2="113.7" y2="96.73" stroke-width="1.35"/>
<line x1="720.2" y1="96.73" x2="742" y2="96.73" stroke-width="1.35"/>
<line x1="91" y1="70.04" x2="102.6" y2="70.04" stroke-width="1.35"/>
<line x1="731.3" y1="70.04" x2="742" y2="70.04" stroke-width="1.35"/>
<line x1="91" y1="54.42" x2="102.6" y2="54.42" stroke-width="1.35"/>
<line x1="731.3" y1="54.42" x2="742" y2="54.42" stroke-width="1.35"/>
<line x1="91" y1="43.35" x2="102.6" y2="43.35" stroke-width="1.35"/>
<line x1="731.3" y1="43.35" x2="742" y2="43.35" stroke-width="1.35"/>
<line x1="91" y1="916.5" x2="101.2" y2="916.5" stroke-width="1.35"/>
<line x1="732.7" y1="916.5" x2="742" y2="916.5" stroke-width="1.35"/>
<line x1="91" y1="916.5" x2="105.8" y2="916.5" stroke-width="1.35"/>
<line x1="728" y1="916.5" x2="742" y2="916.5" stroke-width="1.35"/>
<line x1="91" y1="884.62" x2="101.2" y2="884.62" stroke-width="1.35"/>
<line x1="732.7" y1="884.62" x2="742" y2="884.62" stroke-width="1.35"/>
<line x1="91" y1="857.67" x2="101.2" y2="857.67" stroke-width="1.35"/>
<line x1="732.7" y1="857.67" x2="742" y2="857.67" stroke-width="1.35"/>
<line x1="91" y1="834.32" x2="101.2" y2="834.32" stroke-width="1.35"/>
<line x1="732.7" y1="834.32" x2="742" y2="834.32" stroke-width="1.35"/>
<line x1="91" y1="813.72" x2="101.2" y2="813.72" stroke-width="1.35"/>
<line x1="732.7" y1="813.72" x2="742" y2="813.72" stroke-width="1.35"/>
<line x1="91" y1="795.3" x2="101.2" y2="795.3" stroke-width="1.35"/>
<line x1="732.7" y1="795.3" x2="742" y2="795.3" stroke-width="1.35"/>
<line x1="91" y1="795.3" x2="105.8" y2="795.3" stroke-width="1.35"/>
<line x1="728" y1="795.3" x2="742" y2="795.3" stroke-width="1.35"/>
<line x1="91" y1="778.63" x2="101.2" y2="778.63" stroke-width="1.35"/>
<line x1="732.7" y1="778.63" x2="742" y2="778.63" stroke-width="1.35"/>
<line x1="91" y1="763.42" x2="101.2" y2="763.42" stroke-width="1.35"/>
<line x1="732.7" y1="763.42" x2="742" y2="763.42" stroke-width="1.35"/>
<line x1="91" y1="749.42" x2="101.2" y2="749.42" stroke-width="1.35"/>
<line x1="732.7" y1="749.42" x2="742" y2="749.42" stroke-width="1.35"/>
<line x1="91" y1="736.47" x2="101.2" y2="736.47" stroke-width="1.35"/>
<line x1="732.7" y1="736.47" x2="742" y2="736.47" stroke-width="1.35"/>
<line x1="91" y1="724.4" x2="101.2" y2="724.4" stroke-width="1.35"/>
<line x1="732.7" y1="724.4" x2="742" y2="724.4" stroke-width="1.35"/>
<line x1="91" y1="724.4" x2="105.8" y2="724.4" stroke-width="1.35"/>
<line x1="728" y1="724.4" x2="742" y2="724.4" stroke-width="1.35"/>
<line x1="91" y1="713.12" x2="101.2" y2="713.12" stroke-width="1.35"/>
<line x1="732.7" y1="713.12" x2="742" y2="713.12" stroke-width="1.35"/>
<line x1="91" y1="702.52" x2="101.2" y2="702.52" stroke-width="1.35"/>
<line x1="732.7" y1="702.52" x2="742" y2="702.52" stroke-width="1.35"/>
<line x1="91" y1="692.52" x2="101.2" y2="692.52" stroke-width="1.35"/>
<line x1="732.7" y1="692.52" x2="742" y2="692.52" stroke-width="1.35"/>
<line x1="91" y1="683.07" x2="101.2" y2="683.07" stroke-width="1.35"/>
<line x1="732.7" y1="683.07" x2="742" y2="683.07" stroke-width="1.35"/>
<line x1="91" y1="674.1" x2="101.2" y2="674.1" stroke-width="1.35"/>
<line x1="732.7" y1="674.1" x2="742" y2="674.1" stroke-width="1.35"/>
<line x1="91" y1="674.1" x2="105.8" y2="674.1" stroke-width="1.35"/>
<line x1="728" y1="674.1" x2="742" y2="674.1" stroke-width="1.35"/>
<line x1="91" y1="665.57" x2="101.2" y2="665.57" stroke-width="1.35"/>
<line x1="732.7" y1="665.57" x2="742" y2="665.57" stroke-width="1.35"/>
<line x1="91" y1="657.43" x2="101.2" y2="657.43" stroke-width="1.35"/>
<line x1="732.7" y1="657.43" x2="742" y2="657.43" stroke-width="1.35"/>
<line x1="91" y1="649.66" x2="101.2" y2="649.66" stroke-width="1.35"/>
<line x1="732.7" y1="649.66" x2="742" y2="649.66" stroke-width="1.35"/>
<line x1="91" y1="642.22" x2="101.2" y2="642.22" stroke-width="1.35"/>
<line x1="732.7" y1="642.22" x2="742" y2="642.22" stroke-width="1.35"/>
<rect x="91.0" y="35.0" width="651.0" height="921.0" fill="none" stroke-width="2" shape-rendering="crispEdges"/>
<line x1="91.0" y1="635.0" x2="742.0" y2="635.0" stroke-width="2" shape-rendering="crispEdges"/>
</g>
<text transform="translate(103,29.2) scale(1,1.05)" font-size="24.1" text-anchor="start" fill="#000" stroke="#000" stroke-width="0.25">1960 GeV ppbar</text>
<text transform="translate(736.2,29.2) scale(1,1.05)" font-size="24.4" text-anchor="end" fill="#000" stroke="#000" stroke-width="0.25">Top (parton level)</text>
<text transform="translate(302.3,85.2) scale(1,1.05)" font-size="22.8" text-anchor="start" fill="#000" stroke="#000" stroke-width="0.25">y</text>
<text transform="translate(319.2,85.2) scale(1,0.97)" font-size="20.0" text-anchor="start" fill="#000" stroke="#000" stroke-width="0.25">(ttbar) (Mtt &gt; 450 dy &gt; 0)</text>
<line x1="128.9" y1="124.3" x2="177.2" y2="124.3" stroke="#0000ff" stroke-width="1.25"/>
<polygon points="147.8,129.7 158.2,129.7 153,119.3" fill="#0000ff"/>
<text transform="translate(187.5,130.1) scale(1,1.025)" font-size="18.9" text-anchor="start" fill="#000" stroke="#000" stroke-width="0.25">Pythia 8.315 default</text>
<line x1="128.9" y1="150.3" x2="177.2" y2="150.3" stroke="#7800b4" stroke-width="1.25"/>
<polygon points="147.8,155.7 158.2,155.7 153,145.3" fill="#7800b4"/>
<text transform="translate(187.5,156.1) scale(1,1.025)" font-size="18.9" text-anchor="start" fill="#000" stroke="#000" stroke-width="0.25">Pythia 8.315 default-noFsr</text>
<line x1="128.9" y1="176.3" x2="177.2" y2="176.3" stroke="#0080b0" stroke-width="1.25"/>
<polygon points="147.8,181.7 158.2,181.7 153,171.3" fill="#0080b0"/>
<text transform="translate(187.5,182.1) scale(1,1.025)" font-size="18.9" text-anchor="start" fill="#000" stroke="#000" stroke-width="0.25">Pythia 8.315 default-noRap</text>
<defs><clipPath id="cl"><rect x="0" y="0" width="91" height="635.6"/></clipPath></defs>
<g clip-path="url(#cl)">
<text transform="translate(79.3,106.73) scale(1,1.085)" font-size="21.3" text-anchor="end" fill="#000" stroke="#000" stroke-width="0.25">10</text>
<text transform="translate(79.3,195.4) scale(1,1.085)" font-size="21.3" text-anchor="end" fill="#000" stroke="#000" stroke-width="0.25">1</text>
<text transform="translate(65.1,284.67) scale(1,1.06)" font-size="21.3" text-anchor="end" fill="#000" stroke="#000" stroke-width="0.25">10</text>
<text transform="translate(64.6,276.77) scale(1,1.0)" font-size="15.5" text-anchor="start" fill="#000" stroke="#000" stroke-width="0.25">−</text>
<text transform="translate(81,275.37) scale(1,1.0)" font-size="14.0" text-anchor="end" fill="#000" stroke="#000" stroke-width="0.25">1</text>
<text transform="translate(61.8,373.34) scale(1,1.06)" font-size="21.3" text-anchor="end" fill="#000" stroke="#000" stroke-width="0.25">10</text>
<text transform="translate(61.3,365.44) scale(1,1.0)" font-size="15.5" text-anchor="start" fill="#000" stroke="#000" stroke-width="0.25">−</text>
<text transform="translate(79.6,364.04) scale(1,1.0)" font-size="14.0" text-anchor="end" fill="#000" stroke="#000" stroke-width="0.25">2</text>
<text transform="translate(61.8,462.01) scale(1,1.06)" font-size="21.3" text-anchor="end" fill="#000" stroke="#000" stroke-width="0.25">10</text>
<text transform="translate(61.3,454.11) scale(1,1.0)" font-size="15.5" text-anchor="start" fill="#000" stroke="#000" stroke-width="0.25">−</text>
<text transform="translate(79.6,452.71) scale(1,1.0)" font-size="14.0" text-anchor="end" fill="#000" stroke="#000" stroke-width="0.25">3</text>
<text transform="translate(61.8,550.68) scale(1,1.06)" font-size="21.3" text-anchor="end" fill="#000" stroke="#000" stroke-width="0.25">10</text>
<text transform="translate(61.3,542.78) scale(1,1.0)" font-size="15.5" text-anchor="start" fill="#000" stroke="#000" stroke-width="0.25">−</text>
<text transform="translate(79.6,541.38) scale(1,1.0)" font-size="14.0" text-anchor="end" fill="#000" stroke="#000" stroke-width="0.25">4</text>
<text transform="translate(61.8,639.35) scale(1,1.06)" font-size="21.3" text-anchor="end" fill="#000" stroke="#000" stroke-width="0.25">10</text>
<text transform="translate(61.3,631.45) scale(1,1.0)" font-size="15.5" text-anchor="start" fill="#000" stroke="#000" stroke-width="0.25">−</text>
<text transform="translate(79.6,630.05) scale(1,1.0)" font-size="14.0" text-anchor="end" fill="#000" stroke="#000" stroke-width="0.25">5</text>
</g>
<text transform="translate(77.2,682.8) scale(1,1.08)" font-size="23.0" text-anchor="end" fill="#000" stroke="#000" stroke-width="0.25">2</text>
<text transform="translate(748.1,683.1) scale(1,1.06)" font-size="23.0" text-anchor="start" fill="#000" stroke="#000" stroke-width="0.25">2</text>
<text transform="translate(77.2,804) scale(1,1.08)" font-size="23.0" text-anchor="end" fill="#000" stroke="#000" stroke-width="0.25">1</text>
<text transform="translate(748.1,804.3) scale(1,1.06)" font-size="23.0" text-anchor="start" fill="#000" stroke="#000" stroke-width="0.25">1</text>
<text transform="translate(77.2,925.2) scale(1,1.08)" font-size="23.0" text-anchor="end" fill="#000" stroke="#000" stroke-width="0.25">0.5</text>
<text transform="translate(748.1,925.5) scale(1,1.06)" font-size="23.0" text-anchor="start" fill="#000" stroke="#000" stroke-width="0.25">0.5</text>
<text transform="translate(180.2,979.6) scale(1,1.0)" font-size="25.0" text-anchor="start" fill="#000" stroke="#000" stroke-width="0.25">−</text>
<text transform="translate(201.3,978.6) scale(1,1.06)" font-size="23.5" text-anchor="middle" fill="#000" stroke="#000" stroke-width="0.25">1</text>
<text transform="translate(417.5,978.6) scale(1,1.06)" font-size="23.5" text-anchor="middle" fill="#000" stroke="#000" stroke-width="0.25">0</text>
<text transform="translate(642.3,978.6) scale(1,1.06)" font-size="23.5" text-anchor="middle" fill="#000" stroke="#000" stroke-width="0.25">1</text>
<text transform="translate(760.3,254.6) rotate(-90) scale(1,1.0)" font-size="18.8" text-anchor="start" fill="#6c6c6c" stroke="#6c6c6c" stroke-width="0.25">Rivet 4.1.0, ≥ 100k events</text>
<text transform="translate(762.3,628.7) rotate(-90) scale(1,1.03)" font-size="18.92" text-anchor="start" fill="#6c6c6c" stroke="#6c6c6c" stroke-width="0.25">mcplots.cern.ch [arXiv:1306.3436]</text>
<text transform="translate(33.6,904.2) rotate(-90) scale(1,1.05)" font-size="17.85" text-anchor="start" fill="#000" stroke="#000" stroke-width="0.25">Ratio to Pythia 8.315 default</text>
<text transform="translate(415.7,604) scale(1,1.0)" font-size="15.75" text-anchor="middle" fill="#a0a0a0" stroke="#a0a0a0" stroke-width="0.25">(MC_FBA_TTBAR)</text>
</svg>
</body></html>
